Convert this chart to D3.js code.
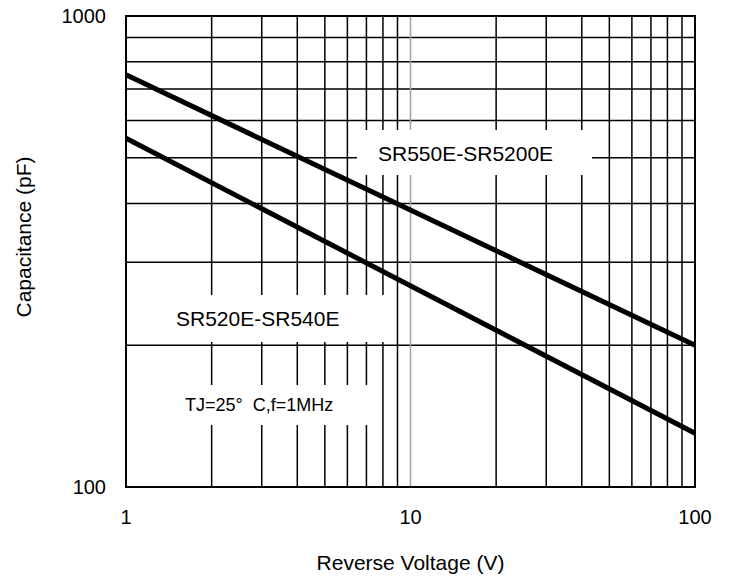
<!DOCTYPE html>
<meta charset="utf-8">
<html lang="en"></html>
<style>
  body { margin: 0; background: #fff; }
  text { font-family: "Liberation Sans", Arial, sans-serif; }
</style>

<!-- load d3.js -->
<script src="https://d3js.org/d3.v7.min.js"></script>

<div id="chart"></div>

<script>
    // data
    const voltages = [1, 100];
    const capUpper = [750, 200];   // SR550E-SR5200E
    const capLower = [550, 130];   // SR520E-SR540E
    const xTicks = [1, 10, 100];
    const yTicks = [100, 1000];
    const xGrid = [2, 3, 4, 5, 6, 7, 8, 9, 20, 30, 40, 50, 60, 70, 80, 90];
    const yGrid = [200, 300, 400, 500, 600, 700, 800, 900];

    const W = 731, H = 579;
    const margin = {top: 16, right: 36, bottom: 92, left: 126};
    const width = W - margin.left - margin.right,
        height = H - margin.top - margin.bottom;

    const svg = d3.select("#chart")
        .append("svg")
            .attr("width", W)
            .attr("height", H)
        .append("g")
            .attr("transform", "translate(" + margin.left + "," + margin.top + ")");

    const x = d3.scaleLog().domain([1, 100]).range([0, width]);
    const y = d3.scaleLog().domain([100, 1000]).range([height, 0]);

    // grid lines
    svg.selectAll(".hgrid")
        .data(yGrid)
        .enter()
        .append("line")
            .attr("x1", 0).attr("x2", width)
            .attr("y1", d => y(d)).attr("y2", d => y(d))
            .attr("stroke", "#000")
            .attr("stroke-width", 1.5);

    svg.selectAll(".vgrid")
        .data(xGrid.concat([10]))
        .enter()
        .append("line")
            .attr("x1", d => x(d)).attr("x2", d => x(d))
            .attr("y1", 0).attr("y2", height)
            .attr("stroke", d => d === 10 ? "#a0a0a0" : "#000")
            .attr("stroke-width", 1.5);

    // white boxes behind labels (they hide the grid)
    const boxes = [
        {x0: 357, x1: 592, y0: 130, y1: 175},
        {x0: 156, x1: 390, y0: 295, y1: 342},
        {x0: 166, x1: 375, y0: 385, y1: 425}
    ];
    svg.selectAll(".box")
        .data(boxes)
        .enter()
        .append("rect")
            .attr("x", d => d.x0 - margin.left)
            .attr("y", d => d.y0 - margin.top)
            .attr("width", d => d.x1 - d.x0)
            .attr("height", d => d.y1 - d.y0)
            .attr("fill", "#fff");

    // frame
    svg.append("rect")
        .attr("x", 0).attr("y", 0)
        .attr("width", width).attr("height", height)
        .attr("fill", "none")
        .attr("stroke", "#000")
        .attr("stroke-width", 2);

    // curves
    const line = d3.line()
        .x(d => x(d[0]))
        .y(d => y(d[1]));
    [capUpper, capLower].forEach(function(s) {
        svg.append("path")
            .datum(voltages.map((v, i) => [v, s[i]]))
            .attr("d", line)
            .attr("fill", "none")
            .attr("stroke", "#000")
            .attr("stroke-width", 5);
    });

    // labels
    svg.append("text")
        .text("SR550E-SR5200E")
        .attr("x", 378 - margin.left)
        .attr("y", 161 - margin.top)
        .attr("font-size", "21px");
    svg.append("text")
        .text("SR520E-SR540E")
        .attr("x", 176 - margin.left)
        .attr("y", 326 - margin.top)
        .attr("font-size", "21px");
    svg.append("text")
        .text("TJ=25°\u00a0\u00a0C,f=1MHz")
        .attr("x", 185 - margin.left)
        .attr("y", 411 - margin.top)
        .attr("font-size", "18px");

    // tick labels
    svg.selectAll(".xt")
        .data(xTicks)
        .enter()
        .append("text")
            .text(d => d)
            .attr("x", d => x(d))
            .attr("y", 524 - margin.top)
            .attr("text-anchor", "middle")
            .attr("font-size", "20px");
    svg.selectAll(".yt")
        .data(yTicks)
        .enter()
        .append("text")
            .text(d => d)
            .attr("x", -20)
            .attr("y", d => y(d) + 7)
            .attr("text-anchor", "end")
            .attr("font-size", "20px");

    // axis titles
    svg.append("text")
        .text("Reverse Voltage (V)")
        .attr("x", x(10))
        .attr("y", 570 - margin.top)
        .attr("text-anchor", "middle")
        .attr("font-size", "21px");
    svg.append("text")
        .text("Capacitance (pF)")
        .attr("transform", "translate(" + (31 - margin.left) + "," + (237 - margin.top) + ")rotate(-90)")
        .attr("text-anchor", "middle")
        .attr("font-size", "21px");
</script>
